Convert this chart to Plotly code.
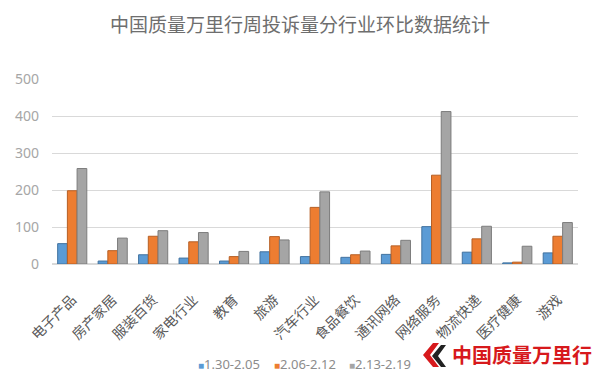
import plotly.graph_objects as go

categories = ["电子产品", "房产家居", "服装百货", "家电行业", "教育", "旅游", "汽车行业",
              "食品餐饮", "通讯网络", "网络服务", "物流快递", "医疗健康", "游戏"]
series_names = ["1.30-2.05", "2.06-2.12", "2.13-2.19"]
week1 = [55, 8, 25, 16, 8, 33, 20, 18, 26, 101, 32, 3, 30]
week2 = [198, 36, 75, 60, 20, 74, 153, 25, 49, 240, 68, 5, 75]
week3 = [258, 70, 90, 85, 34, 65, 195, 35, 64, 412, 102, 48, 112]
y_ticks = [0, 100, 200, 300, 400, 500]

colors = ["#5B9BD5", "#ED7D31", "#A5A5A5"]
edges = ["#41729F", "#B65F24", "#7C7C7C"]

W, H = 600, 384
L, R, T, B = 52, 22, 79, 120
pw, ph = W - L - R, H - T - B


def p(px, py):
    return (px - L) / pw, (H - B - py) / ph


fig = go.Figure()
for name, vals, c, e in zip(series_names, [week1, week2, week3], colors, edges):
    fig.add_trace(go.Bar(x=categories, y=vals, name=name, showlegend=False,
                         marker=dict(color=c, line=dict(color=e, width=1))))

font_cjk = "Noto Sans CJK SC, sans-serif"

fig.update_layout(
    width=W, height=H,
    margin=dict(l=L, r=R, t=T, b=B, autoexpand=False),
    paper_bgcolor="white", plot_bgcolor="white",
    barmode="group", bargap=0.28, bargroupgap=0.0,
    font=dict(family=font_cjk, color="#595959"),
    title=dict(text="中国质量万里行周投诉量分行业环比数据统计",
               x=0.5, xanchor="center", xref="container",
               y=1 - 25 / H, yanchor="middle", yref="container",
               font=dict(size=19, color="#6E6E6E", family=font_cjk)),
    xaxis=dict(type="category", tickangle=-45, showgrid=False, showline=False,
               ticks="", automargin=False, ticklabelstandoff=24,
               tickfont=dict(size=14, color="#595959", family=font_cjk),
               range=[-0.5, len(categories) - 0.5]),
    yaxis=dict(range=[0, 500], tickvals=y_ticks, showgrid=True, gridcolor="#D9D9D9",
               gridwidth=1, zeroline=True, zerolinecolor="#D9D9D9", showline=False,
               ticks="", ticklabelstandoff=12, automargin=False,
               tickfont=dict(size=14, color="#A6A6A6", family="Noto Sans, sans-serif")),
)

# Legend built as text entries
legend_x = [196, 272, 347]
for name, c, lxp in zip(series_names, colors, legend_x):
    ax, ay = p(lxp, 364)
    fig.add_annotation(
        text=f"<span style='color:{c};font-size:10px'>■</span>{name}",
        x=ax, y=ay, xref="paper", yref="paper", xanchor="left", yanchor="middle",
        showarrow=False, font=dict(size=13, color="#8C8C8C", family="Noto Sans, sans-serif"))

# Logo
red_pts = [(433, 343), (423, 355), (433, 367), (439, 367), (430, 355), (439, 343)]
blk_pts = [(441, 345), (432, 356), (441, 367), (446, 367), (438, 356), (446, 345)]
for pts, col in [(blk_pts, "#222222"), (red_pts, "#D7191C")]:
    path = "M " + " L ".join(f"{p(*q)[0]},{p(*q)[1]}" for q in pts) + " Z"
    fig.add_shape(type="path", path=path, xref="paper", yref="paper",
                  fillcolor=col, line=dict(width=0))
lx, ly = p(522, 354)
fig.add_annotation(text="<b>中国质量万里行</b>", x=lx, y=ly, xref="paper", yref="paper",
                   xanchor="center", yanchor="middle", showarrow=False,
                   font=dict(size=20, color="#D7191C", family=font_cjk))

fig.write_html("out.html")
